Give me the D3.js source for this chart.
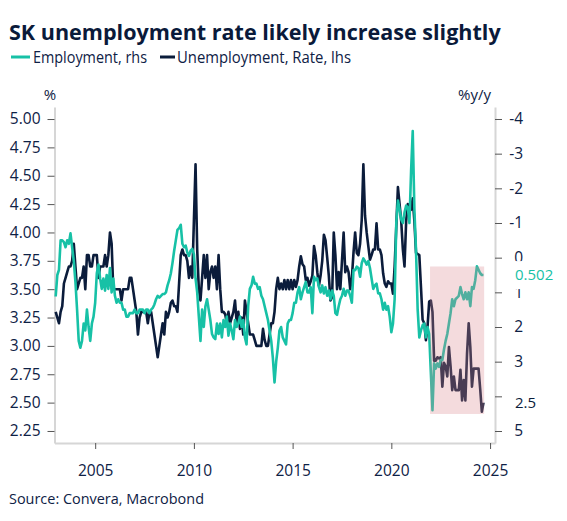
<!DOCTYPE html>
<html>
<head>
<meta charset="utf-8">
<script src="https://cdn.jsdelivr.net/npm/d3@7"></script>
<style>
  body { margin: 0; background: #fff; }
  text { font-family: "Open Sans", "Noto Sans", sans-serif; fill: #0e2145; }
</style>
</head>
<body>
<div id="chart"></div>
<script>
// SK unemployment vs employment growth, monthly from Jan 2003
var startYear = 2003;

// Unemployment rate, % (left axis)
var unemployment = [
  3.3, 3.25, 3.2, 3.3, 3.35, 3.55, 3.6, 3.65, 3.7, 3.7, 3.75, 3.9,
  3.7, 3.5, 3.55, 3.6, 3.6, 3.7, 3.5, 3.8, 3.8, 3.7, 3.7, 3.8,
  3.8, 3.8, 3.6, 3.7, 3.7, 3.7, 3.8, 3.7, 3.8, 4.0, 3.9, 3.5,
  3.5, 3.5, 3.5, 3.5, 3.4, 3.5, 3.5, 3.5, 3.5, 3.6, 3.6, 3.5,
  3.4, 3.3, 3.1, 3.25, 3.3, 3.3, 3.3, 3.3, 3.2, 3.3, 3.3, 3.2,
  3.1, 3.0, 2.9, 3.0, 3.1, 3.2, 3.1, 3.3, 3.25, 3.3, 3.38, 3.4,
  3.35, 3.35, 3.3, 3.55, 3.8, 3.85, 3.8, 3.8, 3.75, 3.6, 3.7, 3.6,
  4.1, 4.6, 3.85, 3.5, 3.4, 3.6, 3.8, 3.6, 3.8, 3.5, 3.65, 3.7,
  3.6, 3.7, 3.5, 3.8, 3.5, 3.3, 3.3, 3.28, 3.2, 3.3, 3.2, 3.25,
  3.3, 3.4, 3.2, 3.3, 3.15, 3.25, 3.1, 3.4, 3.3, 3.2, 3.1, 3.1,
  3.1, 3.05, 3.0, 3.0, 3.0, 3.0, 3.15, 3.05, 3.0, 3.0, 3.1, 3.2,
  3.2, 3.3, 3.5, 3.6, 3.5, 3.55, 3.5, 3.58, 3.5, 3.58, 3.5, 3.58,
  3.5, 3.58, 3.52, 3.58, 3.7, 3.79, 3.72, 3.7, 3.58, 3.6, 3.53, 3.57,
  3.62, 3.88, 3.8, 3.65, 3.53, 3.62, 3.75, 3.98, 3.93, 3.78, 3.62, 3.4,
  3.43, 4.0, 3.8, 3.5, 3.65, 3.5, 3.75, 4.0, 3.65, 3.7, 3.65, 3.5,
  3.6, 3.82, 4.0, 3.82, 3.8, 3.9, 4.11, 4.6, 4.15, 4.0, 3.88, 3.76,
  3.8, 3.85, 3.85, 4.08, 3.85, 3.85, 3.8, 3.64, 3.55, 3.52, 3.57, 3.55,
  3.55, 3.46, 3.7, 4.05, 4.4, 4.25, 4.1, 3.85, 3.7, 4.1, 4.25, 4.22,
  4.2, 4.3, 4.1, 3.82, 3.81, 3.8, 3.52, 3.23, 3.2, 3.05, 3.17, 3.39,
  3.4, 3.3, 2.87, 2.87, 2.9, 2.89, 2.9, 2.64, 2.85, 2.82, 2.73, 2.99,
  2.82, 2.61, 2.73, 2.61, 2.61, 2.61, 2.79, 2.52, 2.7, 2.52, 2.93, 3.2,
  2.99, 2.64, 2.8, 2.8, 2.8, 2.8, 2.62, 2.42, 2.5
];

// Employment, %y/y (right axis, inverted)
var employment = [
  1.12, 0.5, 0.35, -0.5, -0.5, -0.45, -0.3, -0.5, -0.4, -0.7, -0.3, 0.1,
  0.7, 1.5, 2.4, 2.6, 2.4, 1.9, 2.1, 1.5, 2.0, 2.4, 1.9, 1.7,
  1.3, 0.45, 0.2, 0.6, 0.9, 0.6, 0.95, 0.5, 0.9, 0.3, 1.0, 0.6,
  1.1, 1.3, 1.2, 1.3, 1.3, 1.5, 1.5, 1.7, 1.7, 1.6, 1.6, 1.6,
  1.5, 1.6, 1.6, 1.5, 1.5, 1.5, 1.6, 1.5, 1.5, 1.6, 1.5, 1.45,
  1.35, 1.2, 1.1, 1.15, 1.1, 1.05, 1.05, 1.0, 0.8, 0.65, 0.45, 0.15,
  -0.2, -0.5, -0.8, -0.85, -0.95, -0.4, -0.3, -0.35, -0.15, -0.05, -0.2, -0.25,
  -0.1, 0.6, 1.0, 1.7, 2.4, 1.5, 2.0, 1.4, 1.2, 1.5, 1.8, 2.2,
  2.3, 2.35, 1.9, 2.2, 1.9, 2.3, 1.8, 2.0, 1.7, 2.25, 1.9, 2.1,
  2.35, 1.8, 2.0, 1.9, 1.7, 2.0, 1.8, 2.3, 2.5, 1.4, 0.9, 0.8,
  0.55, 0.75, 0.75, 0.9, 0.85, 1.1, 1.2, 1.4, 1.6, 1.8, 2.1, 2.4,
  2.9, 3.6, 3.0, 2.6, 2.1, 2.0, 2.3, 2.4, 2.5, 1.9, 1.8, 1.8,
  1.6, 1.3, 1.3, 1.0, 0.85, 1.2, 1.0, 0.85, 0.7, 1.0, 1.0, 0.85,
  1.6, 0.55, 0.65, 0.6, 0.85, 1.0, 0.8, 1.03, 0.85, 1.1, 0.95, 1.2,
  0.95, 1.1, 1.6, 1.65, 1.4, 1.2, 1.1, 0.9, 1.1, 0.95, 0.95, 1.1,
  1.3, 0.36, 0.36, 0.26, 0.3, 0.55, 0.16, 0.02, 0.1, 0.2, 0.1, 0.3,
  0.6, 0.9, 0.8, 0.75, 1.03, 1.03, 1.2, 1.5, 1.3, 1.5, 1.4, 1.7,
  2.15, 1.9, 1.2, -1.0, -1.65, -1.4, -1.1, -1.0, -1.3, -1.5, -1.45, -1.0,
  -2.5, -3.65, -1.4, -0.2, 1.5, 2.3, 2.1, 1.95, 1.9, 2.3, 2.0, 2.2,
  3.3, 4.4, 3.05, 3.2, 3.05, 3.15, 2.95, 2.95, 2.65, 2.4, 2.2, 1.9,
  1.6, 1.2, 1.4, 1.2, 1.15, 1.1, 0.85, 1.05, 1.2, 1.0, 1.2, 1.0,
  1.4, 0.85, 0.9, 0.65, 0.25, 0.35, 0.45, 0.5, 0.502
];

var xTicks = [2005, 2010, 2015, 2020, 2025];
var leftTicks = [2.25, 2.5, 2.75, 3.0, 3.25, 3.5, 3.75, 4.0, 4.25, 4.5, 4.75, 5.0];
var rightTicks = [-4, -3, -2, -1, 0, 1, 2, 3, 4, 5];
var shadeYears = [2021.96, 2024.7];
var shadeRange = [2.4, 3.7];

var svgWidth = 567;
var svgHeight = 521;
var tealColor = "#17c1a6";
var navyColor = "#0b1c3b";

var svg = d3.select("#chart")
  .append("svg")
  .attr("width", svgWidth)
  .attr("height", svgHeight);

// scales (plot frame 54..495 x 107..443)
var xScale = d3.scaleLinear().domain([2002.94, 2025.25]).range([54.5, 495]);
var yLeft = d3.scaleLinear().domain([2.144, 5.106]).range([443, 107]);
var yRight = d3.scaleLinear().domain([-4.346, 5.346]).range([107, 443]);

// grow/shrink font so the text spans the width seen in the picture
function fitText(sel, target) {
  var size = parseFloat(sel.attr("font-size"));
  var w = sel.node().getComputedTextLength();
  sel.attr("font-size", (size * target / w).toFixed(2));
}
// squeeze glyphs to a width (for short texts)
function fitWidth(sel, target) {
  sel.attr("textLength", target).attr("lengthAdjust", "spacingAndGlyphs");
}

// Title
var title = svg.append("text")
  .attr("x", 9).attr("y", 40)
  .attr("font-size", 24)
  .attr("font-weight", "bold")
  .style("fill", "#0a1a3a")
  .text("SK unemployment rate likely increase slightly");
fitText(title, 492);

// Legend
svg.append("line").attr("x1", 11).attr("x2", 30).attr("y1", 57).attr("y2", 57)
  .attr("stroke", tealColor).attr("stroke-width", 3);
var leg1 = svg.append("text").attr("x", 33).attr("y", 63).attr("font-size", 16)
  .text("Employment, rhs");
fitWidth(leg1, 114);
svg.append("line").attr("x1", 160).attr("x2", 175).attr("y1", 57).attr("y2", 57)
  .attr("stroke", navyColor).attr("stroke-width", 3);
var leg2 = svg.append("text").attr("x", 177).attr("y", 63).attr("font-size", 16)
  .text("Unemployment, Rate, lhs");
fitWidth(leg2, 174);

// unit labels
svg.append("text").attr("x", 50).attr("y", 100).attr("font-size", 15)
  .attr("text-anchor", "middle").text("%");
svg.append("text").attr("x", 491).attr("y", 100).attr("font-size", 15)
  .attr("text-anchor", "end").text("%y/y");

// Axes
var xAxis = svg.append("g")
  .attr("transform", "translate(0,443)")
  .call(d3.axisBottom(xScale).tickValues(xTicks).tickFormat(d3.format("d")).tickSize(6).tickSizeOuter(0));
var lAxis = svg.append("g")
  .attr("transform", "translate(54.5,0)")
  .call(d3.axisLeft(yLeft).tickValues(leftTicks).tickFormat(d3.format(".2f")).tickSize(7).tickSizeOuter(0));
var rAxis = svg.append("g")
  .attr("transform", "translate(495,0)")
  .call(d3.axisRight(yRight).tickValues(rightTicks).tickFormat(d => String(d)).tickSize(7).tickSizeOuter(0));

[xAxis, lAxis, rAxis].forEach(function(a) {
  a.select(".domain").attr("stroke", "#d6d6d6").attr("stroke-width", 2);
  a.selectAll(".tick line").attr("stroke", "#555").attr("stroke-width", 1);
  a.selectAll(".tick text").attr("font-size", 15.5).attr("font-family", null).style("fill", "#0e2145");
});
xAxis.selectAll(".tick text").attr("dy", "1.55em");
lAxis.selectAll(".tick text").attr("x", -14);
rAxis.selectAll(".tick text").attr("x", 28).attr("text-anchor", "end");

// Lines
var lineL = d3.line()
  .x((d, i) => xScale(startYear + i / 12))
  .y(d => yLeft(d));
var lineR = d3.line()
  .x((d, i) => xScale(startYear + i / 12))
  .y(d => yRight(d));

svg.append("path")
  .datum(unemployment)
  .attr("d", lineL)
  .attr("fill", "none")
  .attr("stroke", navyColor)
  .attr("stroke-width", 2.6)
  .attr("stroke-linejoin", "round");

svg.append("path")
  .datum(employment)
  .attr("d", lineR)
  .attr("fill", "none")
  .attr("stroke", tealColor)
  .attr("stroke-width", 2.6)
  .attr("stroke-linejoin", "round");

// shaded box over recent period
svg.append("rect")
  .attr("x", xScale(shadeYears[0]))
  .attr("width", xScale(shadeYears[1]) - xScale(shadeYears[0]))
  .attr("y", yLeft(shadeRange[1]))
  .attr("height", yLeft(shadeRange[0]) - yLeft(shadeRange[1]))
  .attr("fill", "#d9898f")
  .attr("opacity", 0.3);

// last value labels, on a white box over the axis labels
function lastLabel(y, color, txt) {
  var g = svg.append("g");
  var box = g.append("rect").attr("fill", "#fff");
  var t = g.append("text")
    .attr("x", 515).attr("y", y).attr("dy", "0.35em")
    .attr("font-size", 15)
    .style("fill", color)
    .text(txt);
  var bb = t.node().getBBox();
  box.attr("x", 505).attr("y", y - 14).attr("width", bb.x + bb.width - 505 + 3).attr("height", 28);
}
lastLabel(yRight(employment[employment.length - 1]), tealColor, "0.502");
lastLabel(yLeft(unemployment[unemployment.length - 1]), navyColor, "2.5");

// Source
var src = svg.append("text").attr("x", 9).attr("y", 504).attr("font-size", 14)
  .text("Source: Convera, Macrobond");
fitWidth(src, 195);
</script>
</body>
</html>
